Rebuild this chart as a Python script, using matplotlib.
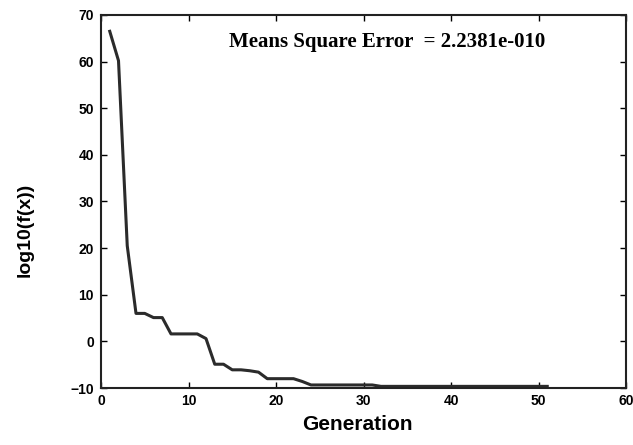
import numpy as np
import matplotlib.pyplot as plt

generation = np.arange(1, 52)
log_f = [66.5, 60.2, 20.5, 6.0, 6.0, 5.1, 5.1, 1.6, 1.6, 1.6,
         1.6, 0.6, -4.9, -4.9, -6.1, -6.1, -6.3, -6.6, -8.0, -8.0,
         -8.0, -8.0, -8.6, -9.35, -9.35, -9.35, -9.35, -9.35, -9.35, -9.35,
         -9.35] + [-9.65] * 20
mse_text = "Means Square Error  = 2.2381e-010"

fig = plt.figure(figsize=(6.33, 4.45), dpi=100)
ax = fig.add_axes([101 / 633, 1 - 388 / 445, 525 / 633, 373 / 445])

ax.plot(generation, log_f, color="#2b2b2b", linewidth=2.2)

ax.set_xlim(0, 60)
ax.set_ylim(-10, 70)
ax.set_xticks(np.arange(0, 61, 10))
ax.set_yticks(np.arange(-10, 71, 10))
ax.tick_params(direction="in", top=True, right=True, length=4, width=1,
               labelsize=10)
ax.tick_params(axis="x", pad=4)
ax.tick_params(axis="y", pad=5)
for lab in ax.get_xticklabels() + ax.get_yticklabels():
    lab.set_fontweight("bold")
    lab.set_family("Liberation Sans")
for s in ax.spines.values():
    s.set_linewidth(1.5)
    s.set_color("#222222")

ax.set_xlabel("Generation", fontsize=15, fontweight="bold",
              family="Liberation Sans", va="center")
ax.set_ylabel("log10(f(x))", fontsize=14, fontweight="bold",
              family="Liberation Sans", va="center")
ax.xaxis.set_label_coords(0.488, -0.099)
ax.yaxis.set_label_coords(-0.145, 0.424)

ax.text(0.243, 0.927, mse_text, transform=ax.transAxes, fontsize=15,
        fontweight="bold", family="Liberation Serif", va="center")

fig.savefig("out.png", dpi=100)
